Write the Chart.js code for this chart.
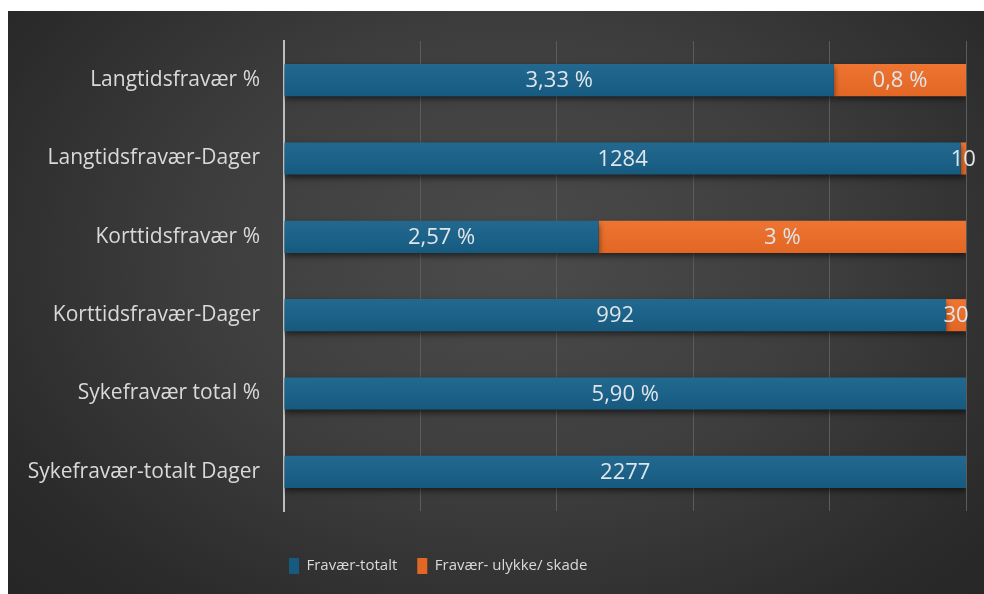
<!DOCTYPE html>
<html>
<head>
<meta charset="utf-8">
<script src="https://cdn.jsdelivr.net/npm/chart.js@4.4.1/dist/chart.umd.min.js"></script>
<style>
  html, body { margin: 0; padding: 0; background: #ffffff; width: 984px; height: 594px; overflow: hidden; }
  #panel {
    position: absolute; left: 8px; top: 11px; width: 976px; height: 583px;
    background: radial-gradient(ellipse 70% 85% at 52% 42%, #4b4b4b 0%, #3e3e3e 45%, #2a2a2a 85%, #262626 100%);
  }
  canvas { display: block; }
</style>
</head>
<body>
<div id="panel"><canvas id="c" width="976" height="583"></canvas></div>
<script>
const categories = ['Langtidsfravær %', 'Langtidsfravær-Dager', 'Korttidsfravær %', 'Korttidsfravær-Dager', 'Sykefravær total %', 'Sykefravær-totalt Dager'];
const seriesNames = ['Fravær-totalt', 'Fravær- ulykke/ skade'];
const totalValues = [3.33, 1284, 2.57, 992, 5.90, 2277];
const injuryValues = [0.8, 10, 3, 30, 0, 0];
const totalLabels = ['3,33 %', '1284', '2,57 %', '992', '5,90 %', '2277'];
const injuryLabels = ['0,8 %', '10', '3 %', '30', '', ''];

// 100% stacked: share of each row
const rowSums = totalValues.map((v, i) => v + injuryValues[i]);
const totalShare = totalValues.map((v, i) => v / rowSums[i] * 100);
const injuryShare = injuryValues.map((v, i) => v / rowSums[i] * 100);

const FONT = "'Open Sans', 'Noto Sans', sans-serif";

function barFill(top, bottom, fallback) {
  return (context) => {
    const chart = context.chart;
    const ys = chart.scales && chart.scales.y;
    if (!chart.chartArea || !ys || context.dataIndex === undefined) return fallback;
    const cy = ys.getPixelForValue(context.dataIndex);
    const h = 16;
    const g = chart.ctx.createLinearGradient(0, cy - h, 0, cy + h);
    g.addColorStop(0, top);
    g.addColorStop(1, bottom);
    return g;
  };
}

const barEffects = {
  id: 'barEffects',
  beforeDatasetsDraw(chart) {
    const ctx = chart.ctx;
    ctx.save();
    ctx.shadowColor = 'rgba(0,0,0,0.55)';
    ctx.shadowBlur = 6;
    ctx.shadowOffsetY = 3;
  },
  afterDatasetsDraw(chart) {
    const ctx = chart.ctx;
    ctx.restore();
    const texts = [totalLabels, injuryLabels];
    const raw = [totalValues, injuryValues];
    ctx.save();
    ctx.font = '22px ' + FONT;
    ctx.fillStyle = '#dfe5ea';
    ctx.textAlign = 'center';
    ctx.textBaseline = 'middle';
    chart.data.datasets.forEach((ds, di) => {
      const meta = chart.getDatasetMeta(di);
      meta.data.forEach((el, i) => {
        if (!raw[di][i]) return;
        const x = (el.base + el.x) / 2;
        ctx.fillText(texts[di][i], x, el.y + 1);
      });
    });
    ctx.restore();
  },
  afterLayout(chart) {
    if (chart.legend) {
      chart.legend.left = 281 - chart.options.plugins.legend.labels.padding;
    }
  }
};

new Chart(document.getElementById('c'), {
  type: 'bar',
  data: {
    labels: categories,
    datasets: [
      { label: seriesNames[0], data: totalShare, backgroundColor: barFill('#23698f', '#165a80', '#1a5f87'), borderWidth: 0, categoryPercentage: 1, barPercentage: 0.41 },
      { label: seriesNames[1], data: injuryShare, backgroundColor: barFill('#ee7431', '#e26724', '#e96d2b'), borderWidth: 0, categoryPercentage: 1, barPercentage: 0.41 }
    ]
  },
  options: {
    indexAxis: 'y',
    responsive: false,
    animation: false,
    layout: { padding: { top: 30, right: 18, bottom: 10, left: 0 } },
    scales: {
      x: {
        stacked: true, min: 0, max: 100,
        ticks: { display: false, stepSize: 20 },
        grid: { color: '#5c5c5c', lineWidth: 1, drawTicks: false },
        border: { display: false },
        afterFit(scale) { scale.height = 27; scale.paddingLeft = 0; scale.paddingRight = 0; }
      },
      y: {
        stacked: true,
        grid: { display: false, drawTicks: false },
        border: { display: true, color: '#bdbdbd', width: 2 },
        ticks: { color: '#d9d9d9', font: { family: FONT, size: 21 }, padding: 24 },
        afterFit(scale) { scale.width = 276; scale.paddingTop = 0; scale.paddingBottom = 0; }
      }
    },
    plugins: {
      legend: {
        position: 'bottom',
        align: 'start',
        labels: {
          color: '#d9d9d9',
          font: { family: FONT, size: 15 },
          boxWidth: 10, boxHeight: 16,
          padding: 20
        }
      },
      tooltip: { enabled: false }
    }
  },
  plugins: [barEffects]
});
</script>
</body>
</html>
